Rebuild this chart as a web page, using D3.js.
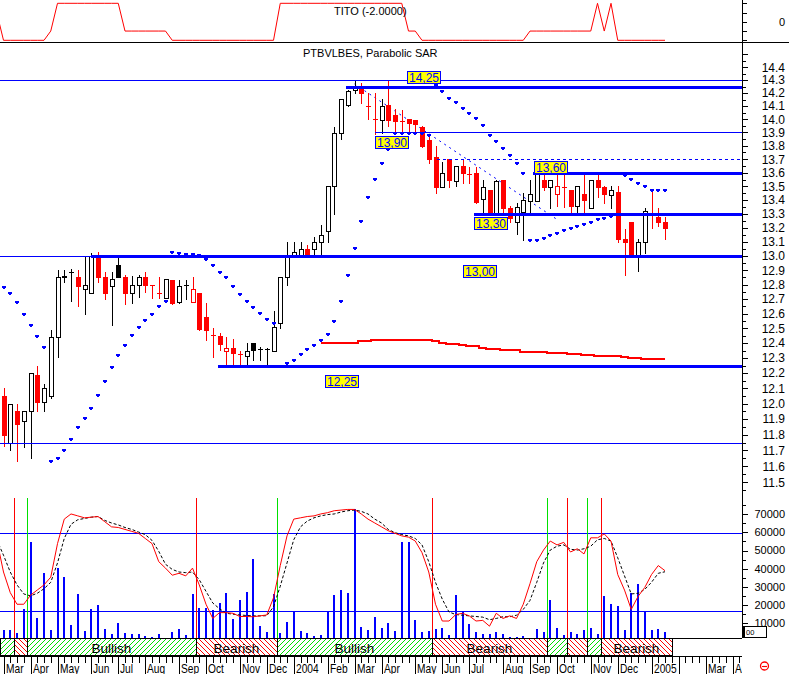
<!DOCTYPE html>
<html><head><meta charset="utf-8">
<script src="https://cdn.jsdelivr.net/npm/d3@7/dist/d3.min.js"></script>
<style>
html,body{margin:0;padding:0;background:#fff;}
svg{display:block;}
text{font-family:"Liberation Sans",Arial,Helvetica,sans-serif;}
</style></head>
<body>
<svg id="chart" width="789" height="674"></svg>
<script>
// ================= DATA =================
const firstWeek = new Date(2003, 2, 3);   // Monday of first weekly bar
const prevClose = 12.08;                   // close of the week before the first bar

const open = [12.05,11.75,11.95,11.89,11.95,12.19,12.01,12.05,12.44,12.85,
 12.885,12.85,12.77,12.745,12.99,12.85,12.79,12.94,12.85,12.745,
 12.80,12.85,12.795,12.745,12.705,12.835,12.68,12.795,12.68,12.74,
 12.58,12.455,12.45,12.35,12.366,12.33,12.317,12.398,12.36,12.362,
 12.35,12.536,12.853,13.00,13.00,13.047,13.047,13.10,13.18,13.50,
 13.894,14.11,14.225,14.25,14.10,14.00,13.994,14.108,14.035,13.985,
 14.00,13.994,13.94,13.845,13.72,13.497,13.699,13.54,13.648,13.59,
 13.595,13.405,13.47,13.304,13.545,13.34,13.244,13.316,13.395,13.395,
 13.545,13.497,13.445,13.495,13.475,13.355,13.445,13.345,13.545,13.497,
 13.44,13.46,13.12,13.244,13.007,13.10,13.29,13.28,13.245];
const high = [12.10,12.00,12.00,11.95,12.20,12.25,12.13,12.49,12.90,12.90,
 12.91,12.90,13.00,13.02,13.03,12.885,12.885,12.99,12.87,12.86,
 12.87,12.885,12.80,12.853,12.84,12.835,12.835,12.835,12.853,12.745,
 12.675,12.50,12.466,12.443,12.43,12.347,12.398,12.398,12.372,12.366,
 12.62,12.853,13.10,13.10,13.10,13.08,13.137,13.22,13.50,13.94,
 14.155,14.22,14.29,14.28,14.20,14.20,14.155,14.30,14.08,14.07,
 14.00,13.994,13.95,13.865,13.80,13.68,13.70,13.648,13.70,13.64,
 13.64,13.545,13.47,13.545,13.545,13.36,13.38,13.45,13.545,13.65,
 13.595,13.545,13.595,13.59,13.475,13.50,13.595,13.545,13.58,13.50,
 13.50,13.50,13.19,13.244,13.12,13.34,13.47,13.34,13.28];
const low = [11.73,11.70,11.63,11.72,11.65,11.955,11.955,12.04,12.305,12.82,
 12.69,12.655,12.60,12.745,12.815,12.70,12.52,12.85,12.665,12.67,
 12.715,12.75,12.705,12.705,12.705,12.665,12.67,12.70,12.68,12.49,
 12.42,12.31,12.355,12.25,12.25,12.25,12.25,12.29,12.29,12.25,
 12.35,12.50,12.80,12.99,12.99,13.00,12.995,13.007,13.10,13.30,
 13.85,14.10,14.20,14.12,14.00,13.89,13.894,13.945,13.894,13.894,
 13.91,13.894,13.79,13.67,13.45,13.497,13.497,13.505,13.527,13.527,
 13.38,13.30,13.30,13.29,13.30,13.24,13.155,13.11,13.304,13.395,
 13.47,13.345,13.355,13.35,13.304,13.304,13.304,13.345,13.42,13.38,
 13.34,13.10,12.87,13.00,12.895,13.02,13.20,13.21,13.12];
const close = [11.80,12.00,11.87,11.95,12.20,12.01,12.10,12.44,12.85,12.86,
 12.885,12.79,12.80,13.00,12.85,12.74,12.84,12.855,12.74,12.80,
 12.85,12.80,12.795,12.745,12.84,12.675,12.79,12.795,12.77,12.495,
 12.49,12.455,12.395,12.366,12.337,12.33,12.35,12.352,12.36,12.362,
 12.508,12.853,12.99,13.03,13.047,13.00,13.10,13.146,13.50,13.894,
 14.155,14.218,14.25,14.20,14.10,14.00,14.10,13.994,13.99,13.985,
 13.97,13.965,13.80,13.70,13.497,13.595,13.55,13.648,13.595,13.59,
 13.385,13.497,13.30,13.54,13.34,13.27,13.347,13.40,13.445,13.595,
 13.497,13.545,13.50,13.495,13.355,13.50,13.40,13.545,13.497,13.445,
 13.475,13.12,13.10,13.007,13.10,13.32,13.29,13.245,13.195];

const sar = [12.78,12.74,12.68,12.595,12.52,12.445,12.375,11.635,11.65,11.705,
 11.775,11.85,11.91,11.975,12.055,12.15,12.24,12.32,12.385,12.455,
 12.51,12.56,12.60,12.65,12.685,13.03,13.02,13.012,13.012,13.007,
 12.976,12.94,12.89,12.85,12.79,12.735,12.685,12.645,12.605,12.565,
 12.536,12.25,12.27,12.29,12.325,12.36,12.385,12.42,12.465,12.55,
 12.69,12.87,13.055,13.25,13.42,13.555,13.675,13.775,13.894,13.894,
 13.894,13.894,13.894,13.88,14.26,14.215,14.165,14.13,14.085,14.05,
 14.01,13.96,13.88,13.835,13.78,13.73,13.67,13.595,13.11,13.11,
 13.13,13.15,13.165,13.185,13.195,13.215,13.23,13.245,13.26,13.27,
 13.285,13.595,13.58,13.555,13.525,13.50,13.475,13.475,13.475];

const maStart = 47;   // long moving average, first week shown
const ma = [12.405,12.405,12.405,12.405,12.41,12.41,12.418,12.418,
 12.425,12.425,12.425,12.425,12.425,12.425,12.425,12.425,12.425,
 12.418,12.41,12.40,12.40,12.394,12.385,12.385,12.375,12.368,12.368,
 12.362,12.358,12.358,12.348,12.348,12.348,12.348,12.341,12.341,12.341,
 12.335,12.335,12.326,12.326,12.322,12.322,12.322,12.322,12.315,
 12.308,12.308,12.302,12.302,12.302,12.302];

const volume = [6300,6300,4500,17700,54800,13100,37500,6300,40200,35600,
 9100,26100,5900,17900,20100,6900,4100,10300,4500,4100,
 4100,3000,2600,4100,500,5000,6700,3600,25900,18600,
 18200,17300,21000,26500,12400,22800,27400,45300,8500,5000,
 25900,4500,10500,16800,5800,4500,3000,3600,16400,25500,
 28300,26500,72600,7800,6300,13300,7600,10300,5800,54800,
 54800,11800,5000,5800,6900,7600,3600,25500,16000,9600,
 5000,4000,4100,5000,4100,2600,2300,3200,2000,6900,
 5400,22800,7600,3600,5000,4100,6300,7600,4100,25000,
 20600,19500,6300,26500,31400,16900,6300,6900,5000];

const oscStart = -1;  // oscillator series start one week before first bar
const oscK = [75,50,34,25,25,32,36,40,46,72,
 91,95,93.5,92,92.5,93,89,85,84.5,83,
 81.5,80,76,72,58,53,47.5,49,47,53,
 40,25,14,18.5,18.5,18,15.5,15.5,15.3,16,
 16.7,30,55,78,91,92,93,93.5,95,96,
 97.5,98,98.5,98.5,95,91,88,85,82,80,
 78,77,74,65,50,25,12,12,17,18,
 16,12,12.5,8,18,14,16,14,25,41,
 58,67,74,71,73,65.5,68,64,76.5,76.5,
 79.5,74,48,36,21,31,38,48,55,51];
const oscD = [75,63,50,40,33,31.5,33.5,37,42,57,
 76,87,90.5,91.5,92.5,93,90,88,86.5,84.5,
 83,81,79,74.5,66,56,52,50,49.5,50,
 44,35,26,21.5,18,17.3,16.7,16.3,16,16,
 16.1,23,39,57,75,85,89.5,92,93.5,94.5,
 95,96.5,97.5,98,97,95,91,88,83,80.5,
 79,78,76,71,58,42,29,19,17,16.5,
 16,15.5,15,13,14,15.3,15.3,16.5,21,28,
 42,57,67,70,71,67.6,67,68,70,75,
 76,74,61,47,33,33.5,36.5,42,49,50.2];
const oscLevels = [80, 20];

const titoStart = -1;
const tito = [1,-2,-2,-2,-2,-2,-2,-2,-1,2,
 2,2,2,2,2,2,2,2,2,-1,
 -1,-1,-1,-1,-1,-1,-2,-2,-2,-2,
 -2,-2,-2,-2,-2,-2,-2,-2,-2,-2,
 -2,-2,2,2,2,2,2,2,2,2,
 2,2,2,2,2,2,2,2,2,2,
 2,-1,-1,-2,-2,-2,-2,-2,-2,-2,
 -2,-2,-2,-2,-2,-2,-2,-2,-2,-1,
 -1,-1,-1,-1,-1,-1,-1,-1,-1,2,
 -1,2,-2,-2,-2,-2,-2,-2,-2,-2];

const signalWeeks = [2,4,29,41,64,81,84,87,89];
const signalTypes = ["sell","buy","sell","buy","sell","buy","sell","buy","sell"];

// support / resistance levels
const levelValues = [14.30,14.25,13.90,13.70,13.60,13.30,13.00,13.00,12.25,11.75];
const levelFrom   = [null,50.75,55,64.2,78.4,69.75,null,13,31.8,null];
const levelKind   = ["thin","thick","thin","dash","thick","thick","thin","thick","thick","thin"];
const boxTexts  = ["14,25","13,90","13,60","13,30","13,00","12,25"];
const boxWeek   = [59.73,55.04,78.59,69.75,68.12,47.63];
const boxPrice  = [14.324,13.821,13.640,13.234,12.890,12.148];
const trendWeeks = [52, 82];
const trendPrices = [14.27, 13.26];

const priceTickLabels = ["11.5","11.6","11.7","11.8","11.9","12.0","12.1","12.2","12.3","12.4","12.5",
 "12.6","12.7","12.8","12.9","13.0","13.1","13.2","13.3","13.4","13.5","13.6","13.7","13.8","13.9",
 "14.0","14.1","14.2","14.3","14.4"];
const volumeTickLabels = ["10000","20000","30000","40000","50000","60000","70000"];
const titoTickLabels = ["0"];
const monthLabels = ["Jan","Feb","Mar","Apr","May","Jun","Jul","Aug","Sep","Oct","Nov","Dec"];
const bandTexts = {buy:"Bullish", sell:"Bearish"};
const titoTitle = "TITO (-2.0000)";
const mainTitle = "PTBVLBES, Parabolic SAR";

// ================= LAYOUT =================
const W = 789, AX = 742, DX = 6.75;
const BLUE = "#0000ff", RED = "#ff0000", GREEN = "#00e000";
const svg = d3.select("#chart");
const defs = svg.append("defs");
function clip(id, x, y, w, h) {
  defs.append("clipPath").attr("id", id).append("rect")
    .attr("x", x).attr("y", y).attr("width", w).attr("height", h);
}
clip("cTop", 0, 0, AX, 42);
clip("cMain", 0, 44, AX, 453);
clip("cLow", 0, 497, AX, 141);
clip("cAxis", 0, 656, AX, 18);

const pg = defs.append("pattern").attr("id", "hatchG").attr("patternUnits", "userSpaceOnUse")
  .attr("width", 5).attr("height", 5);
pg.append("path").attr("d", "M-1,1 L1,-1 M0,5 L5,0 M4,6 L6,4").attr("stroke", GREEN).attr("stroke-width", 1);
const pr = defs.append("pattern").attr("id", "hatchR").attr("patternUnits", "userSpaceOnUse")
  .attr("width", 5).attr("height", 5);
pr.append("path").attr("d", "M-1,4 L1,6 M0,0 L5,5 M4,-1 L6,1").attr("stroke", RED).attr("stroke-width", 1);

const x = d3.scaleLinear().domain([0, 1]).range([3.5, 3.5 + DX]);
const yP = d3.scaleLog().domain([11.5, 14.3]).range([482.2, 80.1]);
const yT = d3.scaleLinear().domain([-2, 2]).range([40.3, 3.3]);
const yV = d3.scaleLinear().domain([0, 70000]).range([641.5, 514.1]);
const yO = d3.scaleLinear().domain([0, 100]).range([636.5, 507.5]);
const px = i => Math.round(x(i));

// ---------- TITO panel ----------
const gTop = svg.append("g").attr("clip-path", "url(#cTop)");
gTop.append("path").datum(tito)
  .attr("d", d3.line().x((d, k) => x(k + titoStart)).y(d => yT(d)))
  .attr("fill", "none").attr("stroke", RED).attr("stroke-width", 1);
svg.append("text").attr("x", 334).attr("y", 14.5).attr("font-size", 11).text(titoTitle);
svg.append("line").attr("x1", 0).attr("x2", W).attr("y1", 42.5).attr("y2", 42.5)
  .attr("stroke", "#000").attr("shape-rendering", "crispEdges");

// ---------- MAIN PANEL ----------
const gMain = svg.append("g").attr("clip-path", "url(#cMain)");

// moving average
gMain.append("path").datum(ma)
  .attr("d", d3.line().curve(d3.curveStep).x((d, k) => x(k + maStart)).y(d => Math.round(yP(d)) + 0.5))
  .attr("fill", "none").attr("stroke", RED).attr("stroke-width", 2).attr("shape-rendering", "crispEdges");

// trend line
gMain.append("line")
  .attr("x1", x(trendWeeks[0])).attr("y1", yP(trendPrices[0]))
  .attr("x2", x(trendWeeks[1])).attr("y2", yP(trendPrices[1]))
  .attr("stroke", BLUE).attr("stroke-width", 1).attr("stroke-dasharray", "2,4");

// candles
const candles = gMain.append("g");
open.forEach((o, i) => {
  const c = close[i], h = high[i], l = low[i];
  const pc = i === 0 ? prevClose : close[i - 1];
  const col = c < pc ? RED : "#000";
  const cx = px(i);
  candles.append("line").attr("x1", cx + 0.5).attr("x2", cx + 0.5)
    .attr("y1", Math.round(yP(h))).attr("y2", Math.round(yP(l)) + 1)
    .attr("stroke", col).attr("shape-rendering", "crispEdges");
  if (o === c) {
    const yy = Math.round(yP(c)) + 0.5;
    candles.append("line").attr("x1", cx - 2).attr("x2", cx + 3).attr("y1", yy).attr("y2", yy)
      .attr("stroke", col).attr("shape-rendering", "crispEdges");
  } else {
    const yt = Math.round(yP(Math.max(o, c))), yb = Math.round(yP(Math.min(o, c)));
    candles.append("rect").attr("x", cx - 1.5).attr("y", yt + 0.5)
      .attr("width", 4).attr("height", Math.max(1, yb - yt))
      .attr("fill", c < o ? col : "#fff").attr("stroke", col).attr("stroke-width", 1);
  }
});

// level lines
levelValues.forEach((v, k) => {
  const kind = levelKind[k];
  const yy = Math.round(yP(v)) + (kind === "thick" ? 0 : 0.5);
  const x1 = levelFrom[k] === null ? 0 : x(levelFrom[k]);
  gMain.append("line").attr("x1", x1).attr("x2", AX).attr("y1", yy).attr("y2", yy)
    .attr("stroke", BLUE).attr("stroke-width", kind === "thick" ? 3 : 1)
    .attr("stroke-dasharray", kind === "dash" ? "3,3" : null)
    .attr("shape-rendering", "crispEdges");
});

// parabolic SAR dots
gMain.append("g").selectAll("path").data(sar).join("path")
  .attr("d", (d, i) => {
    const cx = px(i), cy = Math.round(yP(d));
    return `M${cx - 2},${cy - 1}h4v2h-1v1h-2v-1h-1z`;
  })
  .attr("fill", BLUE);

// label boxes
boxTexts.forEach((t, k) => {
  const bx = Math.round(x(boxWeek[k])) + 0.5, by = Math.round(yP(boxPrice[k]) - 6.5) + 0.5;
  svg.append("rect").attr("x", bx).attr("y", by).attr("width", 33).attr("height", 12)
    .attr("fill", "#ffff00").attr("stroke", BLUE).attr("stroke-width", 1);
  svg.append("text").attr("x", bx + 16.5).attr("y", by + 10.5).attr("text-anchor", "middle")
    .attr("font-size", 12).attr("fill", BLUE).text(t);
});
svg.append("text").attr("x", 303).attr("y", 56.5).attr("font-size", 11).text(mainTitle);

// ---------- LOWER PANEL ----------
const gLow = svg.append("g").attr("clip-path", "url(#cLow)");
oscLevels.forEach(v => {
  const yy = Math.round(yO(v)) + 0.5;
  gLow.append("line").attr("x1", 0).attr("x2", AX).attr("y1", yy).attr("y2", yy)
    .attr("stroke", BLUE).attr("shape-rendering", "crispEdges");
});
gLow.append("g").selectAll("rect").data(volume).join("rect")
  .attr("x", (d, i) => px(i) - 1).attr("width", 2)
  .attr("y", d => Math.round(yV(d))).attr("height", d => Math.max(0, 638 - Math.round(yV(d))))
  .attr("fill", BLUE).attr("shape-rendering", "crispEdges");
signalWeeks.forEach((w, k) => {
  const xx = Math.round(x(w - 0.5)) + 0.5;
  gLow.append("line").attr("x1", xx).attr("x2", xx).attr("y1", 498).attr("y2", 638)
    .attr("stroke", signalTypes[k] === "buy" ? GREEN : RED).attr("shape-rendering", "crispEdges");
});
gLow.append("path").datum(oscD)
  .attr("d", d3.line().x((d, k) => x(k + oscStart)).y(d => yO(d)))
  .attr("fill", "none").attr("stroke", "#000").attr("stroke-width", 1).attr("stroke-dasharray", "3,2");
gLow.append("path").datum(oscK)
  .attr("d", d3.line().x((d, k) => x(k + oscStart)).y(d => yO(d)))
  .attr("fill", "none").attr("stroke", RED).attr("stroke-width", 1);

// ---------- SIGNAL BAND ----------
const bandEnd = Math.round(x(close.length));
const bounds = [0].concat(signalWeeks.map(w => Math.round(x(w - 0.5)))).concat([bandEnd]);
const segTypes = [signalTypes[0] === "sell" ? "buy" : "sell"].concat(signalTypes);
const gBand = svg.append("g");
for (let k = 0; k < segTypes.length; k++) {
  const x1 = bounds[k], x2 = bounds[k + 1];
  gBand.append("rect").attr("x", x1 + 0.5).attr("y", 638.5).attr("width", x2 - x1).attr("height", 17)
    .attr("fill", segTypes[k] === "buy" ? "url(#hatchG)" : "url(#hatchR)")
    .attr("stroke", "#000").attr("stroke-width", 1).attr("shape-rendering", "crispEdges");
  if (x2 - x1 > 40) {
    gBand.append("text").attr("x", (x1 + x2) / 2).attr("y", 652.5).attr("text-anchor", "middle")
      .attr("font-size", 13.5).text(bandTexts[segTypes[k]]);
  }
}
[638.5, 656.5].forEach(yy => svg.append("line").attr("x1", 0).attr("x2", AX).attr("y1", yy).attr("y2", yy)
  .attr("stroke", "#000").attr("shape-rendering", "crispEdges"));

// ---------- X AXIS ----------
const gAx = svg.append("g").attr("clip-path", "url(#cAxis)");
let lastEnd = -100;
for (let i = 0; ; i++) {
  const xi = px(i) + 0.5;
  if (xi > AX) break;
  const fri = d3.timeDay.offset(firstWeek, 7 * i + 4);
  const prevFri = d3.timeDay.offset(fri, -7);
  const isMonth = fri.getMonth() !== prevFri.getMonth();
  gAx.append("line").attr("x1", xi).attr("x2", xi).attr("y1", 656).attr("y2", isMonth ? 674 : 663)
    .attr("stroke", "#000").attr("shape-rendering", "crispEdges");
  if (isMonth) {
    const lab = fri.getMonth() === 0 ? String(fri.getFullYear()) : monthLabels[fri.getMonth()];
    const lx = xi + 1.5;
    if (lx > lastEnd + 6) {
      const t = gAx.append("text").attr("transform", `translate(${lx},672.5) scale(0.85,1)`)
        .attr("font-size", 12).text(lab);
      lastEnd = lx + t.node().getComputedTextLength() * 0.85;
    }
  }
}

// ---------- RIGHT AXIS ----------
const gR = svg.append("g");
gR.append("line").attr("x1", AX + 0.5).attr("x2", AX + 0.5).attr("y1", 0).attr("y2", 638)
  .attr("stroke", "#000").attr("shape-rendering", "crispEdges");
function tick(yy, len) {
  gR.append("line").attr("x1", AX).attr("x2", AX + len).attr("y1", Math.round(yy) + 0.5).attr("y2", Math.round(yy) + 0.5)
    .attr("stroke", "#000").attr("shape-rendering", "crispEdges");
}
function rlabel(yy, t, fs) {
  gR.append("text").attr("x", 785).attr("y", yy).attr("dy", "0.36em").attr("text-anchor", "end")
    .attr("font-size", fs).text(t);
}
// TITO axis
[-2, -1, 0, 1, 2].forEach(v => tick(yT(v), 5));
rlabel(yT(0), titoTickLabels[0], 11);
// price axis
for (let k = 0; k <= 61; k++) {
  const v = 11.45 + k * 0.05;
  const major = k % 2 === 1;
  tick(yP(v), major ? 6 : 4);
}
priceTickLabels.forEach(t => rlabel(yP(+t), t, 12));
// volume axis
for (let v = 5000; v <= 75000; v += 5000) tick(yV(v), v % 10000 === 0 ? 6 : 4);
volumeTickLabels.forEach(t => rlabel(yV(+t), t, 11));
gR.append("rect").attr("x", 743.5).attr("y", 626.5).attr("width", 23).attr("height", 11)
  .attr("fill", "#fff").attr("stroke", "#000").attr("shape-rendering", "crispEdges");
gR.append("rect").attr("x", 743).attr("y", 627).attr("width", 2).attr("height", 10).attr("fill", "#000");
gR.append("text").attr("x", 746).attr("y", 635).attr("font-size", 7.5).text("00");

// status symbol
svg.append("circle").attr("cx", 764.5).attr("cy", 666).attr("r", 4).attr("fill", "none")
  .attr("stroke", RED).attr("stroke-width", 1.3);
svg.append("line").attr("x1", 762).attr("x2", 767).attr("y1", 666.5).attr("y2", 666.5)
  .attr("stroke", RED).attr("stroke-width", 1.2);
</script>
</body></html>
